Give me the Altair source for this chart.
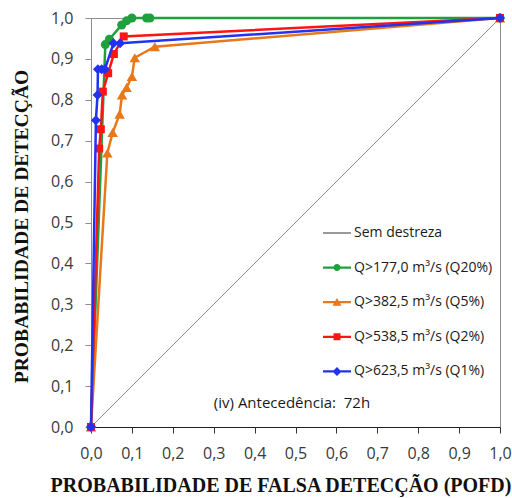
import altair as alt
import pandas as pd

# ---------------- data ----------------
series_names = [
    "Sem destreza",
    "Q>177,0 m³/s (Q20%)",
    "Q>382,5 m³/s (Q5%)",
    "Q>538,5 m³/s (Q2%)",
    "Q>623,5 m³/s (Q1%)",
]
series_colors = ["#333333", "#1FA03C", "#E8781A", "#FF1414", "#2233F0"]
series_shapes = [None, "circle", "triangle-up", "square", "diamond"]

diag_pofd = [0.0, 1.0]
diag_pod = [0.0, 1.0]

q20_pofd = [0.0, 0.035, 0.045, 0.075, 0.087, 0.100, 0.136, 0.144, 1.0]
q20_pod = [0.0, 0.935, 0.948, 0.983, 0.993, 1.000, 1.000, 1.000, 1.0]

q5_pofd = [0.0, 0.040, 0.053, 0.070, 0.076, 0.087, 0.100, 0.107, 0.156, 1.0]
q5_pod = [0.0, 0.670, 0.720, 0.765, 0.812, 0.830, 0.857, 0.903, 0.930, 1.0]

q2_pofd = [0.0, 0.020, 0.024, 0.029, 0.042, 0.056, 0.080, 1.0]
q2_pod = [0.0, 0.681, 0.728, 0.820, 0.865, 0.912, 0.955, 1.0]

q1_pofd = [0.0, 0.012, 0.016, 0.017, 0.026, 0.034, 0.055, 0.071, 1.0]
q1_pod = [0.0, 0.750, 0.812, 0.875, 0.875, 0.875, 0.938, 0.938, 1.0]

tick_values = [0.0, 0.1, 0.2, 0.3, 0.4, 0.5, 0.6, 0.7, 0.8, 0.9, 1.0]
note_text = ["(iv) Antecedência:\u00a0 72h"]

# legend symbols: a horizontal line segment plus the marker (unit coordinates)
line_thin = "M-2.8,-0.1H2.8V0.1H-2.8Z"
line_thick = "M-2.8,-0.22H2.8V0.22H-2.8Z"
legend_paths = [
    line_thin,
    line_thick + " M0.7,0A0.7,0.7 0 1,1 -0.7,0A0.7,0.7 0 1,1 0.7,0Z",
    line_thick + " M0,-0.85L0.9,0.7L-0.9,0.7Z",
    line_thick + " M-0.7,-0.7H0.7V0.7H-0.7Z",
    line_thick + " M0,-0.9L0.9,0L0,0.9L-0.9,0Z",
]

# ---------------- tables ----------------
curves = [
    (series_names[1], q20_pofd, q20_pod),
    (series_names[2], q5_pofd, q5_pod),
    (series_names[3], q2_pofd, q2_pod),
    (series_names[4], q1_pofd, q1_pod),
]
rows = []
for name, xs, ys in curves:
    for i, (xv, yv) in enumerate(zip(xs, ys)):
        rows.append({"serie": name, "pofd": xv, "pod": yv, "idx": i})
df = pd.DataFrame(rows)
df_diag = pd.DataFrame({"pofd": diag_pofd, "pod": diag_pod})
df_note = pd.DataFrame({"txt": note_text})

label_expr = "replace(format(datum.value, '.1f'), '.', ',')"
x_scale = alt.Scale(domain=[0, 1], nice=False, zero=False)
y_scale = alt.Scale(domain=[0, 1], nice=False, zero=False)

x_enc = alt.X(
    "pofd:Q",
    scale=x_scale,
    axis=alt.Axis(
        values=tick_values,
        labelExpr=label_expr,
        title="PROBABILIDADE DE FALSA DETECÇÃO (POFD)",
        titleFont="Liberation Serif",
        titleFontWeight="bold",
        titleFontSize=20,
        titleColor="#111111",
        titleX=189.5,
        titleY=58.5,
        titleBaseline="middle",
        labelFont="Open Sans",
        labelFontSize=16,
        labelColor="#3a3a3a",
        labelPadding=12,
        labelOverlap=False,
        labelFlush=False,
        tickSize=6,
        tickColor="#333333",
        domainColor="#222222",
        grid=False,
    ),
)
y_enc = alt.Y(
    "pod:Q",
    scale=y_scale,
    axis=alt.Axis(
        values=tick_values,
        labelExpr=label_expr,
        title="PROBABILIDADE DE DETECÇÃO",
        titleFont="Liberation Serif",
        titleFontWeight="bold",
        titleFontSize=19.6,
        titleColor="#111111",
        titleX=-69.3,
        titleY=208,
        titleAngle=270,
        titleBaseline="middle",
        labelFont="Open Sans",
        labelFontSize=16,
        labelColor="#3a3a3a",
        labelPadding=12,
        labelOverlap=False,
        labelFlush=False,
        tickSize=6,
        tickColor="#8c8c8c",
        domainColor="#8c8c8c",
        grid=False,
    ),
)

layers = []
layers.append(
    alt.Chart(df_diag).mark_line(color="#8f8f8f", strokeWidth=1).encode(x=x_enc, y=y_enc)
)

marker_sizes = {"circle": 81, "triangle-up": 110, "square": 64, "diamond": 100}
for k, (name, xs, ys) in enumerate(curves, start=1):
    base = alt.Chart(df).transform_filter(alt.datum.serie == name)
    layers.append(
        base.mark_line(strokeWidth=2.5, color=series_colors[k]).encode(
            x=x_enc, y=y_enc, order=alt.Order("idx:Q")
        )
    )
    layers.append(
        base.mark_point(
            filled=True,
            opacity=1,
            shape=series_shapes[k],
            size=marker_sizes[series_shapes[k]],
            color=series_colors[k],
        ).encode(x=x_enc, y=y_enc)
    )

legend_def = alt.Legend(
    title=None,
    orient="none",
    legendX=239,
    legendY=208,
    padding=0,
    symbolSize=100,
    symbolStrokeWidth=0,
    symbolOpacity=1,
    labelFont="Open Sans",
    labelFontSize=14,
    labelColor="#1a1a1a",
    labelOffset=10,
    rowPadding=20.6,
)
layers.append(
    alt.Chart(df)
    .transform_filter("false")
    .mark_point(filled=True, opacity=1)
    .encode(
        x=x_enc,
        y=y_enc,
        color=alt.Color(
            "serie:N",
            scale=alt.Scale(domain=series_names, range=series_colors),
            legend=legend_def,
        ),
        shape=alt.Shape(
            "serie:N",
            scale=alt.Scale(domain=series_names, range=legend_paths),
            legend=legend_def,
        ),
    )
)

layers.append(
    alt.Chart(df_note)
    .mark_text(font="Open Sans", fontSize=15, color="#1a1a1a", align="center", baseline="middle")
    .encode(text="txt:N", x=alt.value(201), y=alt.value(385))
)

chart = (
    alt.layer(*layers)
    .properties(
        width=409,
        height=409,
        autosize=alt.AutoSizeParams(type="none"),
        padding={"left": 91, "top": 18, "right": 12, "bottom": 71},
        background="white",
    )
    .configure_view(stroke="#8c8c8c", strokeWidth=1)
)

chart.save("out.html", embed_options={"renderer": "svg", "actions": False})
